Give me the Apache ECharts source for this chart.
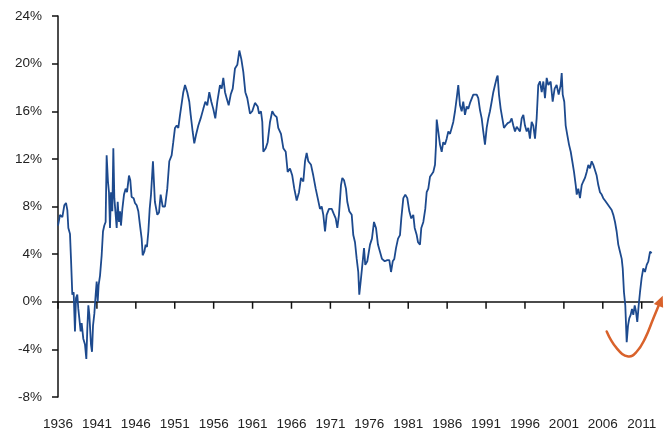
<!DOCTYPE html>
<html>
<head>
<meta charset="utf-8">
<script src="https://cdn.jsdelivr.net/npm/echarts@6/dist/echarts.min.js"></script>
<style>
  html, body { margin: 0; padding: 0; background: #fff; }
  #chart { width: 669px; height: 432px; }
</style>
</head>
<body>
<div id="chart"></div>
<script>
// yearly readings (fractional years) and values in %
const years = [
  1936.0, 1936.26, 1936.56, 1936.81, 1937.03, 1937.2, 1937.33, 1937.54, 1937.67, 1937.84,
  1938.01, 1938.18, 1938.31, 1938.48, 1938.61, 1938.74, 1938.91, 1939.04, 1939.25, 1939.47,
  1939.64, 1939.77, 1939.9, 1940.03, 1940.24, 1940.37, 1940.5, 1940.67, 1940.84, 1940.97,
  1941.1, 1941.22, 1941.4, 1941.61, 1941.78, 1941.95, 1942.12, 1942.25, 1942.42, 1942.55,
  1942.68, 1942.81, 1942.98, 1943.11, 1943.24, 1943.41, 1943.54, 1943.67, 1943.84, 1943.97,
  1944.09, 1944.27, 1944.48, 1944.69, 1944.87, 1945.12, 1945.29, 1945.46, 1945.72, 1945.89,
  1946.11, 1946.32, 1946.54, 1946.75, 1946.88, 1947.09, 1947.26, 1947.43, 1947.61, 1947.78,
  1947.95, 1948.2, 1948.45, 1948.76, 1948.98, 1949.19, 1949.45, 1949.75, 1950.04, 1950.3,
  1950.6, 1950.81, 1951.03, 1951.25, 1951.46, 1951.68, 1952.1, 1952.32, 1952.61, 1952.87,
  1953.05, 1953.3, 1953.51, 1953.73, 1954.03, 1954.33, 1954.67, 1954.93, 1955.18, 1955.44,
  1955.7, 1955.95, 1956.21, 1956.47, 1956.81, 1957.03, 1957.24, 1957.46, 1957.67, 1957.93,
  1958.19, 1958.45, 1958.74, 1959.04, 1959.3, 1959.55, 1959.81, 1960.07, 1960.32, 1960.67,
  1960.96, 1961.31, 1961.66, 1961.83, 1962.08, 1962.25, 1962.38, 1962.69, 1962.94, 1963.24,
  1963.53, 1963.79, 1964.1, 1964.3, 1964.65, 1964.95, 1965.26, 1965.51, 1965.81, 1966.1,
  1966.36, 1966.67, 1966.97, 1967.22, 1967.52, 1967.74, 1967.95, 1968.16, 1968.51, 1968.8,
  1969.11, 1969.37, 1969.66, 1969.88, 1970.09, 1970.31, 1970.52, 1970.82, 1971.17, 1971.42,
  1971.68, 1971.89, 1972.1, 1972.36, 1972.53, 1972.75, 1973.0, 1973.17, 1973.43, 1973.74,
  1973.94, 1974.16, 1974.38, 1974.58, 1974.71, 1974.89, 1975.06, 1975.32, 1975.48, 1975.74,
  1976.09, 1976.34, 1976.6, 1976.86, 1977.11, 1977.37, 1977.63, 1977.98, 1978.31, 1978.57,
  1978.79, 1979.01, 1979.21, 1979.43, 1979.69, 1979.94, 1980.11, 1980.37, 1980.62, 1980.88,
  1981.14, 1981.39, 1981.65, 1981.83, 1982.09, 1982.26, 1982.51, 1982.68, 1982.94, 1983.19,
  1983.37, 1983.58, 1983.8, 1984.01, 1984.22, 1984.44, 1984.57, 1984.66, 1984.86, 1985.08,
  1985.3, 1985.5, 1985.72, 1985.94, 1986.15, 1986.37, 1986.58, 1986.79, 1987.01, 1987.23,
  1987.43, 1987.65, 1987.87, 1988.07, 1988.29, 1988.51, 1988.72, 1988.94, 1989.15, 1989.36,
  1989.58, 1989.8, 1990.0, 1990.22, 1990.44, 1990.64, 1990.86, 1991.08, 1991.29, 1991.5,
  1991.72, 1991.93, 1992.15, 1992.37, 1992.49, 1992.66, 1992.88, 1993.09, 1993.3, 1993.52,
  1993.78, 1994.08, 1994.29, 1994.5, 1994.72, 1994.94, 1995.14, 1995.36, 1995.58, 1995.79,
  1996.0, 1996.22, 1996.43, 1996.64, 1996.86, 1997.07, 1997.29, 1997.5, 1997.71, 1997.93,
  1998.15, 1998.36, 1998.57, 1998.79, 1999.0, 1999.3, 1999.56, 1999.81, 2000.07, 2000.33,
  2000.59, 2000.72, 2000.85, 2001.05, 2001.23, 2001.44, 2001.66, 2001.88, 2002.08, 2002.3,
  2002.52, 2002.65, 2002.85, 2003.07, 2003.29, 2003.49, 2003.71, 2003.93, 2004.14, 2004.35,
  2004.57, 2004.78, 2005.0, 2005.21, 2005.42, 2005.64, 2005.86, 2006.06, 2006.28, 2006.5,
  2006.71, 2006.92, 2007.14, 2007.35, 2007.57, 2007.78, 2007.99, 2008.21, 2008.43, 2008.56,
  2008.72, 2008.89, 2009.07, 2009.24, 2009.4, 2009.58, 2009.75, 2009.92, 2010.1, 2010.26,
  2010.43, 2010.61, 2010.78, 2010.99, 2011.2, 2011.42, 2011.64, 2011.85, 2012.07, 2012.29
];

const values = [
  6.4, 7.3, 7.1, 8.1, 8.3, 7.7, 6.2, 5.7, 3.6, 0.6,
  0.8, -2.5, 0.3, 0.6, -0.6, -1.4, -2.5, -1.8, -3.1, -3.6,
  -4.8, -2.2, -0.3, -1.1, -3.6, -4.2, -2.0, -1.0, 0.6, 1.7,
  0.0, 1.4, 2.2, 3.9, 5.9, 6.4, 6.7, 12.3, 10.1, 9.2,
  6.2, 9.2, 7.6, 12.9, 8.7, 7.3, 6.2, 8.4, 6.7, 7.6,
  6.4, 7.8, 9.0, 9.5, 9.2, 10.6, 10.2, 8.8, 8.7, 8.3,
  8.1, 7.6, 6.4, 5.3, 3.9, 4.2, 4.8, 4.6, 5.9, 7.8,
  9.0, 11.8, 8.4, 7.3, 7.5, 9.0, 8.0, 8.0, 9.5, 11.8,
  12.3, 13.4, 14.6, 14.8, 14.6, 15.7, 17.6, 18.2, 17.6, 16.8,
  15.7, 14.3, 13.3, 14.0, 14.8, 15.4, 16.2, 16.8, 16.5, 17.6,
  16.8, 16.2, 15.4, 16.8, 18.2, 17.9, 18.8, 17.6, 17.1, 16.5,
  17.4, 17.9, 19.6, 19.9, 21.1, 20.4, 19.3, 17.6, 17.1, 15.8,
  16.0, 16.7, 16.4, 15.8, 16.0, 15.1, 12.6, 12.9, 13.4, 15.1,
  16.0, 15.7, 15.5, 14.6, 14.1, 12.9, 12.6, 10.9, 11.2, 10.6,
  9.5, 8.5, 9.2, 10.4, 10.1, 11.8, 12.5, 11.8, 11.5, 10.6,
  9.5, 8.7, 7.8, 8.0, 7.3, 5.9, 7.3, 7.8, 7.8, 7.4,
  7.0, 6.2, 7.3, 9.8, 10.4, 10.2, 9.5, 8.4, 7.6, 7.3,
  5.6, 5.0, 3.6, 2.5, 0.6, 1.7, 2.8, 4.5, 3.1, 3.4,
  4.8, 5.3, 6.7, 6.2, 4.8, 4.2, 3.6, 3.4, 3.5, 3.5,
  2.5, 3.4, 3.6, 4.5, 5.3, 5.6, 7.0, 8.7, 9.0, 8.7,
  7.6, 7.0, 7.3, 6.2, 5.6, 5.0, 4.8, 6.2, 6.7, 7.8,
  9.2, 9.5, 10.5, 10.4, 10.9, 11.5, 13.2, 15.3, 14.3, 13.2,
  12.6, 13.4, 13.2, 13.7, 14.3, 14.1, 14.6, 15.1, 16.0, 17.1,
  18.2, 16.5, 16.0, 16.8, 15.7, 16.4, 16.2, 16.7, 16.8, 17.4,
  17.5, 17.4, 17.1, 16.1, 15.4, 14.3, 13.2, 14.6, 15.4, 16.0,
  16.8, 17.6, 18.2, 18.8, 19.0, 17.4, 16.2, 15.4, 14.6, 14.8,
  15.0, 15.1, 15.4, 14.8, 14.3, 14.7, 14.6, 14.3, 15.4, 15.7,
  14.8, 14.3, 14.6, 13.7, 15.1, 14.8, 13.7, 15.4, 18.2, 18.5,
  17.6, 18.5, 17.1, 18.8, 18.2, 18.5, 16.8, 17.9, 18.2, 17.4,
  18.2, 19.2, 17.4, 16.8, 14.8, 14.0, 13.2, 12.6, 11.8, 10.9,
  9.8, 9.0, 9.5, 8.7, 9.8, 10.1, 10.4, 10.9, 11.5, 11.2,
  11.8, 11.5, 11.6, 10.6, 9.8, 9.2, 9.0, 8.7, 8.5, 8.4,
  8.1, 8.0, 7.7, 7.3, 6.7, 5.9, 4.8, 4.2, 3.6, 2.8,
  0.8, -0.3, -3.4, -2.0, -1.4, -1.1, -0.6, -1.1, -0.3, -0.8,
  -1.7, -0.3, 0.8, 2.0, 2.8, 2.5, 3.1, 3.4, 4.2, 4.1
];

// annotation swoosh under the recent trough; last point is the arrow tip
const arrowYears = [2006.5, 2007.78, 2009.27, 2010.35, 2011.42, 2012.49, 2013.7];
const arrowValues = [-2.5, -3.9, -4.6, -4.2, -3.1, -1.4, 0.5];

const tickYears = [1936, 1941, 1946, 1951, 1956, 1961, 1966, 1971, 1976, 1981, 1986, 1991, 1996, 2001, 2006, 2011];

const xMin = 1936;
const xMax = 2012.45;

const font = '"Liberation Sans", Arial, sans-serif';
const axisColor = "#111";
const orange = "#d9622b";

const lineData = years.map((y, i) => [y, values[i]]);

// overlay: tick marks under the zero line + the curved arrow
const renderOverlay = (params, api) => {
  const children = tickYears.map((y) => {
    const p = api.coord([y, 0]);
    return {
      type: "line",
      shape: { x1: p[0], y1: p[1], x2: p[0], y2: p[1] + 7 },
      style: { stroke: axisColor, lineWidth: 1.5 },
    };
  });

  const pts = arrowYears.map((y, i) => api.coord([y, arrowValues[i]]));
  const tip = pts[pts.length - 1];
  const prev = pts[pts.length - 2];
  const dx = tip[0] - prev[0];
  const dy = tip[1] - prev[1];
  const len = Math.sqrt(dx * dx + dy * dy);
  const ux = dx / len;
  const uy = dy / len;
  const headLen = 11;
  const halfW = 5;
  const base = [tip[0] - ux * headLen, tip[1] - uy * headLen];
  const left = [base[0] - uy * halfW, base[1] + ux * halfW];
  const right = [base[0] + uy * halfW, base[1] - ux * halfW];
  const body = pts.slice(0, -1).concat([[base[0] + ux * 1.5, base[1] + uy * 1.5]]);

  children.push({
    type: "polyline",
    shape: { points: body, smooth: 0.45 },
    style: { stroke: orange, lineWidth: 2.5, fill: null, lineCap: "round" },
  });
  children.push({
    type: "polygon",
    shape: { points: [tip, left, right] },
    style: { fill: orange },
  });
  return { type: "group", children: children };
};

const chart = echarts.init(document.getElementById("chart"));
const option = {
  animation: false,
  backgroundColor: "#fff",
  grid: {
    left: 58,
    right: 16,
    top: 16,
    bottom: 35,
    containLabel: false,
  },
  xAxis: [
    {
      type: "value",
      min: xMin,
      max: xMax,
      axisLine: { onZero: true, lineStyle: { color: axisColor, width: 1.5 } },
      axisTick: { show: false },
      axisLabel: { show: false },
      splitLine: { show: false },
    },
    {
      type: "value",
      position: "bottom",
      min: xMin,
      max: xMax,
      axisLine: { show: false, onZero: false },
      axisTick: { show: false },
      splitLine: { show: false },
      axisLabel: {
        customValues: tickYears,
        formatter: (v) => String(v),
        margin: 20,
        color: "#222",
        fontSize: 13.5,
        fontFamily: font,
      },
    },
  ],
  yAxis: {
    type: "value",
    min: -8,
    max: 24,
    interval: 4,
    axisLine: { show: true, lineStyle: { color: axisColor, width: 1.5 } },
    axisTick: { show: true, length: 6, lineStyle: { color: axisColor, width: 1.5 } },
    axisLabel: {
      formatter: "{value}%",
      margin: 16,
      color: "#222",
      fontSize: 13.5,
      fontFamily: font,
    },
    splitLine: { show: false },
  },
  series: [
    {
      name: "series",
      type: "line",
      xAxisIndex: 0,
      data: lineData,
      showSymbol: false,
      symbol: "none",
      lineStyle: { color: "#1d4a8e", width: 1.8 },
      z: 3,
    },
    {
      name: "overlay",
      type: "custom",
      xAxisIndex: 0,
      data: [[arrowYears[0], arrowValues[0]]],
      renderItem: renderOverlay,
      clip: false,
      silent: true,
      z: 4,
    },
  ],
};
chart.setOption(option);
</script>
</body>
</html>
